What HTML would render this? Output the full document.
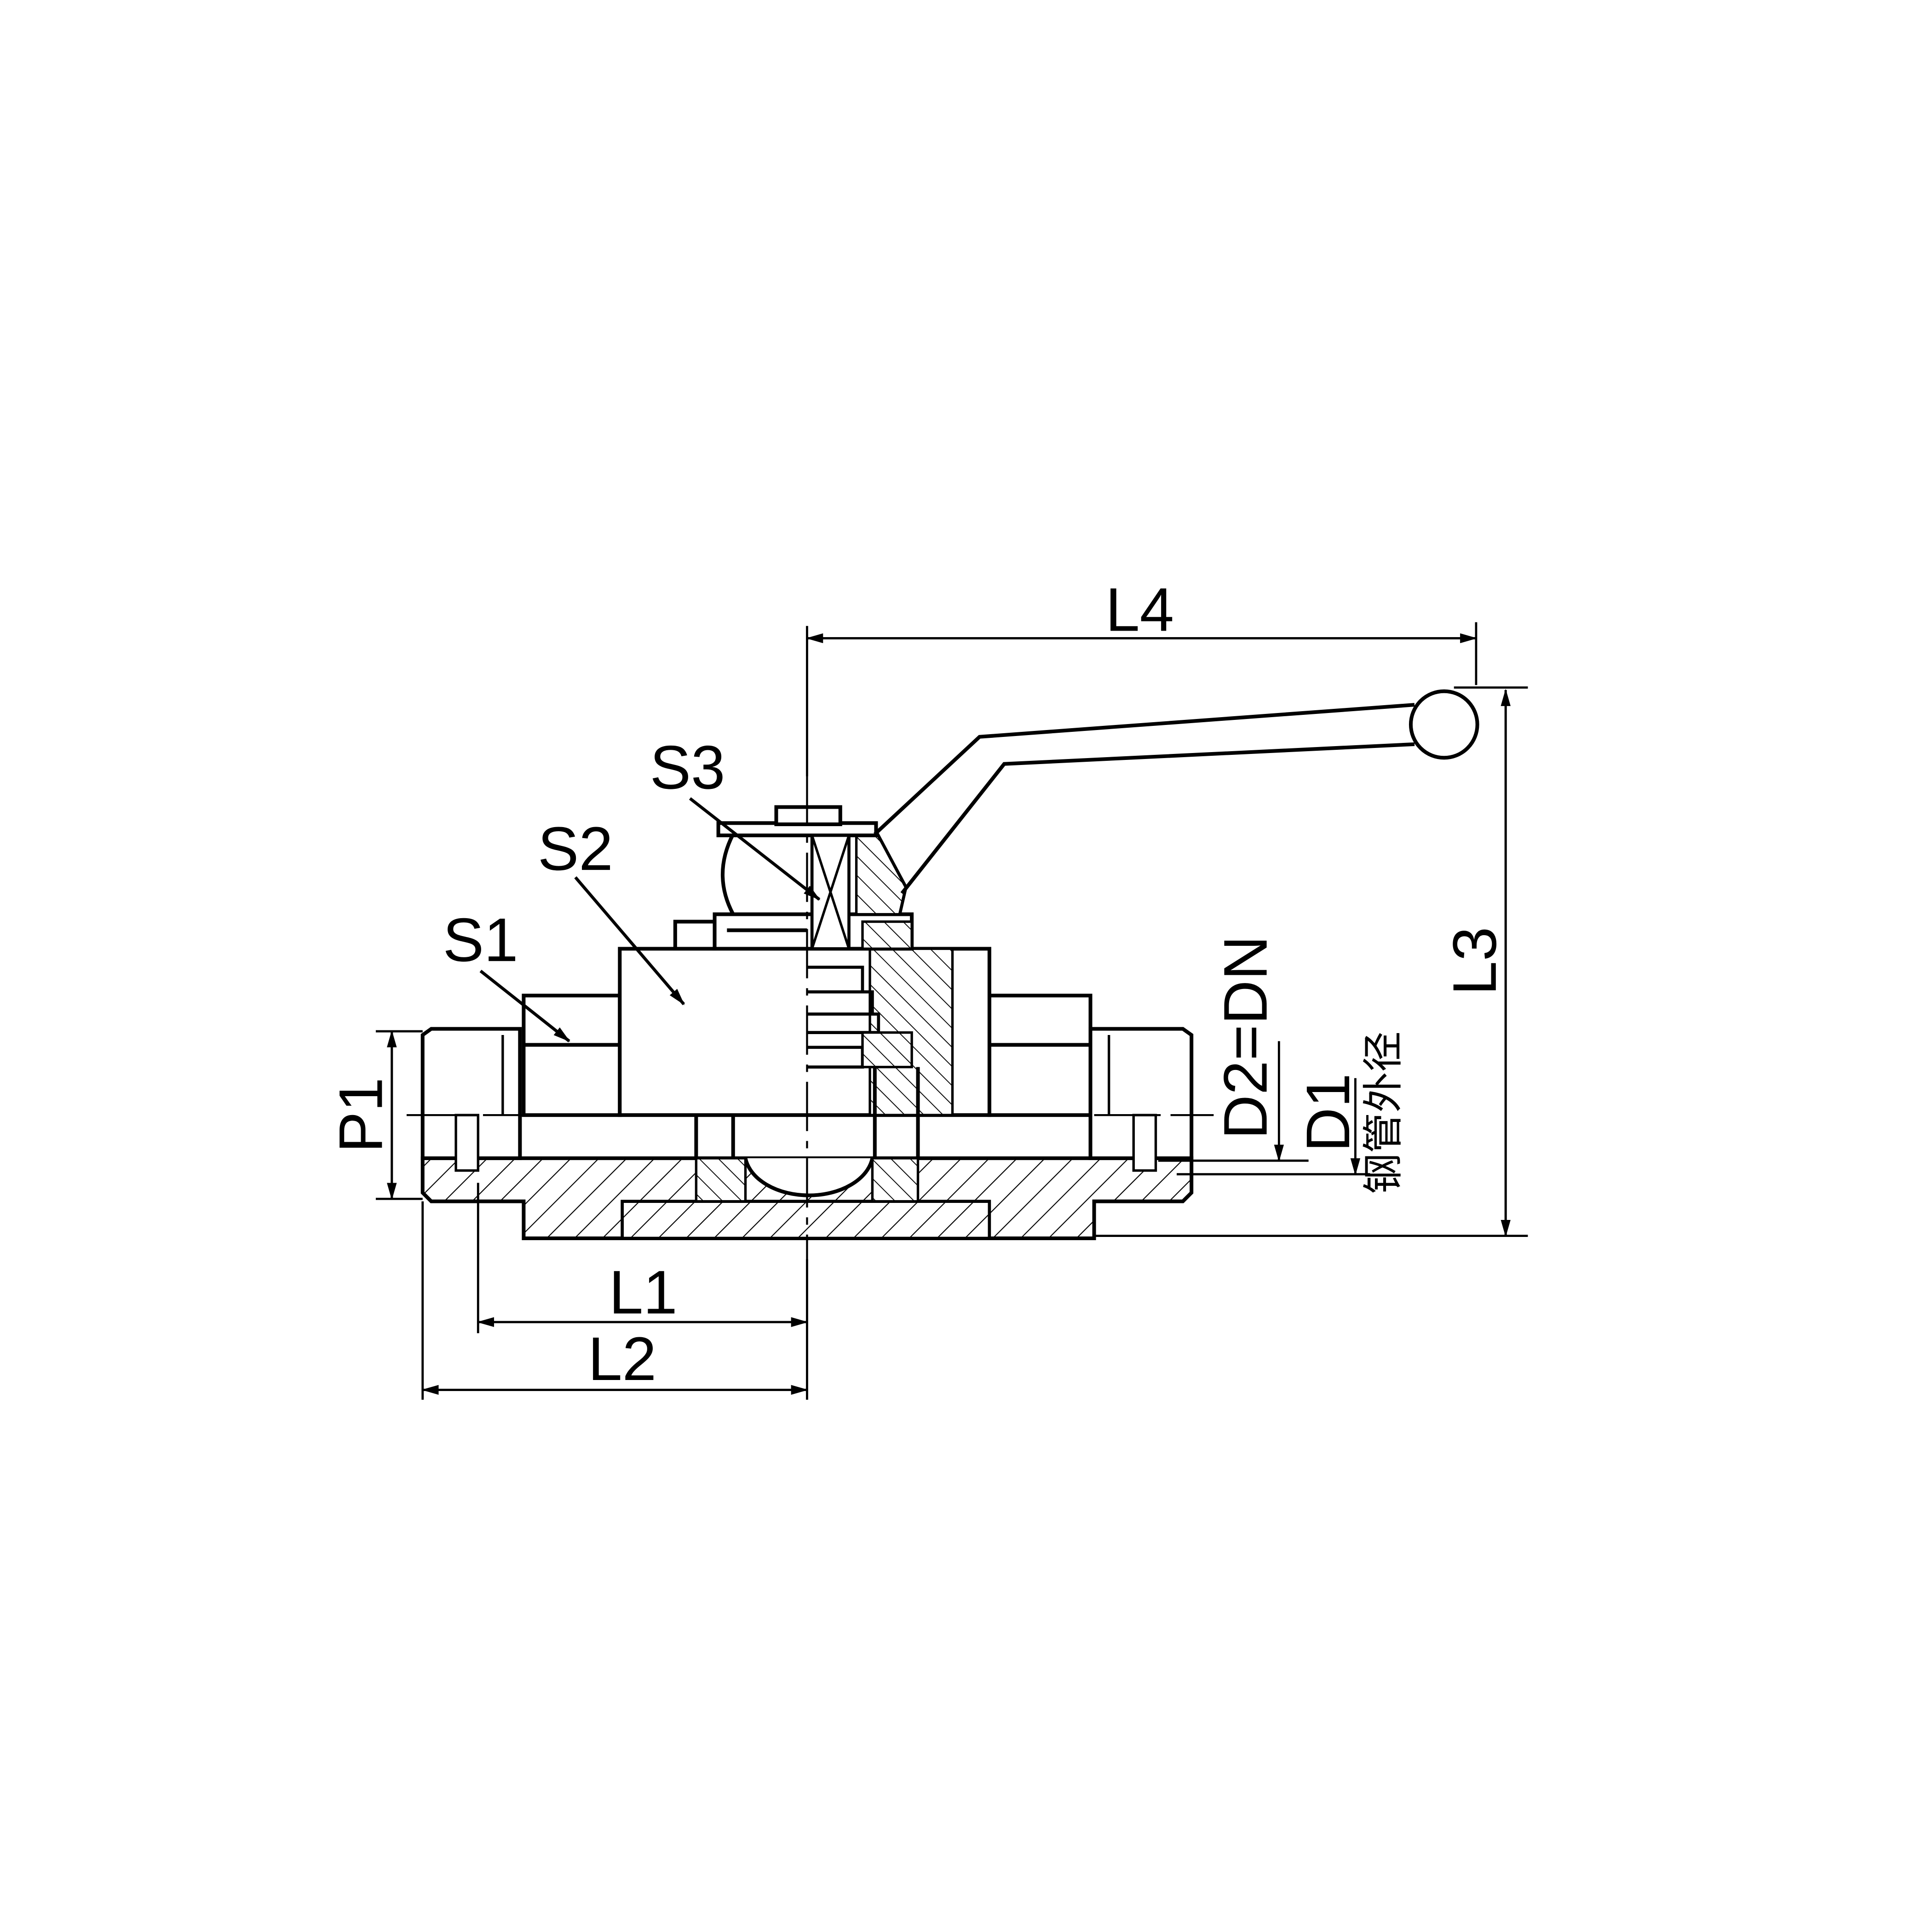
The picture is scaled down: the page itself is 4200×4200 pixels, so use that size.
<!DOCTYPE html>
<html><head><meta charset="utf-8"><style>html,body{margin:0;padding:0;background:#fff}svg{display:block}</style></head>
<body>
<svg width="4200" height="4200" viewBox="0 0 1568 1568" xmlns="http://www.w3.org/2000/svg">
<defs>
<pattern id="h1" patternUnits="userSpaceOnUse" width="16" height="16" patternTransform="rotate(45)"><line x1="0" y1="0" x2="0" y2="16" stroke="#000" stroke-width="1.6"/></pattern>
<pattern id="h2" patternUnits="userSpaceOnUse" width="11" height="11" patternTransform="rotate(-45)"><rect width="11" height="11" fill="#fff"/><line x1="0" y1="0" x2="0" y2="11" stroke="#000" stroke-width="1.4"/></pattern>
<pattern id="h3" patternUnits="userSpaceOnUse" width="16" height="16" patternTransform="rotate(45)"><rect width="16" height="16" fill="#fff"/><line x1="0" y1="0" x2="0" y2="16" stroke="#000" stroke-width="1.6"/></pattern>
<marker id="ar" markerWidth="14" markerHeight="8" refX="13" refY="4" orient="auto" markerUnits="userSpaceOnUse"><path d="M0,0 L14,4 L0,8 Z" fill="#000"/></marker>
</defs>
<rect width="1568" height="1568" fill="#fff"/>
<g fill="none" stroke="#000" stroke-width="3">
<path d="M343,940 H967 V968 L960,975 H888 V1005 H425 V975 H350 L343,968 Z" fill="url(#h1)"/>
<path d="M505,975 H803 V1005 H505 Z" fill="url(#h3)" stroke-width="2.5"/>
<path d="M605,940 A52,35 0 0 0 708,940" fill="#fff"/>
<rect x="565" y="940" width="40" height="35" fill="url(#h2)" stroke-width="2"/>
<rect x="708" y="940" width="37" height="35" fill="url(#h2)" stroke-width="2"/>
<path d="M343,840 L350,835 H422 V940 H343 Z" fill="#fff"/>
<line x1="408" y1="840" x2="408" y2="905" stroke-width="2"/>
<rect x="370" y="905" width="18" height="45" stroke-width="2" fill="#fff"/>
<path d="M425,808 H503 V905 H425 Z" fill="#fff"/>
<line x1="425" y1="848" x2="503" y2="848"/>
<path d="M803,808 H885 V905 H803 Z" fill="#fff"/>
<line x1="803" y1="848" x2="885" y2="848"/>
<path d="M885,835 H960 L967,840 V940 H885 Z" fill="#fff"/>
<line x1="900" y1="840" x2="900" y2="905" stroke-width="2"/>
<rect x="920" y="905" width="18" height="45" stroke-width="2" fill="#fff"/>
<rect x="503" y="770" width="300" height="135" fill="#fff"/>
<path d="M706,770 H773 V905 H706 Z" fill="url(#h2)" stroke-width="2"/>
<line x1="773" y1="770" x2="773" y2="905" stroke-width="1.5"/>
<path d="M655,785 H700 V805 H655 M655,805 H708 V823 H655 M655,823 H713 V838 H655 M655,850 H700 V866 H655" stroke-width="2.5"/>
<rect x="700" y="838" width="40" height="28" fill="url(#h2)" stroke-width="2"/>
<path d="M565,905 V940 M595,905 V940 M710,866 V940 M745,866 V940" stroke-width="3"/>
<rect x="548" y="748" width="32" height="22" fill="#fff"/>
<rect x="580" y="742" width="160" height="28" fill="#fff"/>
<rect x="700" y="748" width="40" height="22" fill="url(#h2)" stroke-width="2"/>
<line x1="590" y1="755" x2="655" y2="755"/>
<path d="M595,677 H712 L735,720 L730,742 H595 Q578,710 595,677 Z" fill="#fff"/>
<path d="M695,677 H712 L735,720 L730,742 H695 Z" fill="url(#h2)" stroke-width="2"/>
<rect x="583" y="668" width="128" height="10" fill="#fff"/>
<rect x="630" y="655" width="52" height="14" fill="#fff"/>
<rect x="659" y="678" width="30" height="92" stroke-width="2.5" fill="#fff"/>
<path d="M659,678 L689,770 M689,678 L659,770" stroke-width="2"/>
<path d="M710,677 L795,598 L1148,572 M732,725 L815,620 L1148,604" stroke-width="3"/>
<circle cx="1172" cy="588" r="27" fill="#fff"/>
</g>
<g stroke="#000" stroke-width="1.6" stroke-dasharray="40,8,6,8" fill="none">
<line x1="655" y1="630" x2="655" y2="1022"/>
<line x1="330" y1="905" x2="985" y2="905"/>
</g>
<g stroke="#000" stroke-width="1.8" fill="none">
<line x1="655" y1="508" x2="655" y2="630"/>
<line x1="1198" y1="505" x2="1198" y2="556"/>
<line x1="655" y1="518" x2="1198" y2="518" marker-end="url(#ar)"/>
<line x1="1198" y1="518" x2="655" y2="518" marker-end="url(#ar)"/>
<line x1="1180" y1="558" x2="1240" y2="558"/>
<line x1="888" y1="1003" x2="1240" y2="1003"/>
<line x1="1222" y1="560" x2="1222" y2="1003" marker-end="url(#ar)"/>
<line x1="1222" y1="1003" x2="1222" y2="560" marker-end="url(#ar)"/>
<line x1="305" y1="837" x2="343" y2="837"/>
<line x1="305" y1="973" x2="343" y2="973"/>
<line x1="318" y1="837" x2="318" y2="973" marker-end="url(#ar)"/>
<line x1="318" y1="973" x2="318" y2="837" marker-end="url(#ar)"/>
<line x1="343" y1="975" x2="343" y2="1136"/>
<line x1="388" y1="960" x2="388" y2="1082"/>
<line x1="655" y1="1022" x2="655" y2="1136"/>
<line x1="388" y1="1073" x2="655" y2="1073" marker-end="url(#ar)"/>
<line x1="655" y1="1073" x2="388" y2="1073" marker-end="url(#ar)"/>
<line x1="343" y1="1128" x2="655" y2="1128" marker-end="url(#ar)"/>
<line x1="655" y1="1128" x2="343" y2="1128" marker-end="url(#ar)"/>
<line x1="940" y1="942" x2="1062" y2="942"/>
<line x1="955" y1="953" x2="1112" y2="953"/>
<line x1="1038" y1="845" x2="1038" y2="942" marker-end="url(#ar)"/>
<line x1="1100" y1="875" x2="1100" y2="953" marker-end="url(#ar)"/>
<line x1="390" y1="788" x2="462" y2="845" stroke-width="2.5" marker-end="url(#ar)"/>
<line x1="467" y1="712" x2="555" y2="815" stroke-width="2.5" marker-end="url(#ar)"/>
<line x1="560" y1="648" x2="665" y2="730" stroke-width="2.5" marker-end="url(#ar)"/>
</g>
<g font-family="Liberation Sans, sans-serif" font-size="50" fill="#000">
<text x="925" y="512" text-anchor="middle">L4</text>
<text x="522" y="1066" text-anchor="middle">L1</text>
<text x="505" y="1120" text-anchor="middle">L2</text>
<text x="390" y="780" text-anchor="middle">S1</text>
<text x="467" y="706" text-anchor="middle">S2</text>
<text x="558" y="640" text-anchor="middle">S3</text>
<text transform="translate(1214,780) rotate(-90)" text-anchor="middle">L3</text>
<text transform="translate(310,905) rotate(-90)" text-anchor="middle">P1</text>
<text transform="translate(1028,842) rotate(-90)" text-anchor="middle">D2=DN</text>
<text transform="translate(1095,903) rotate(-90)" text-anchor="middle">D1</text>
<text transform="translate(1134,903) rotate(-90)" text-anchor="middle" font-size="33" font-family="Liberation Sans, Noto Sans CJK SC, sans-serif">钢管外径</text>
</g>
</svg>
</body></html>
